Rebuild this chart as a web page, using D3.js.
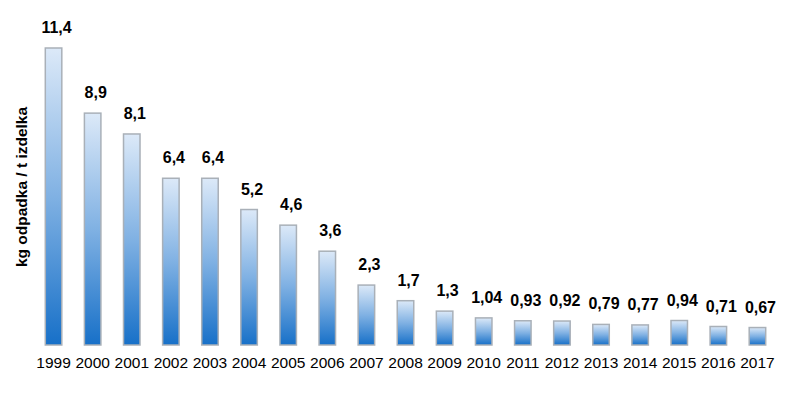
<!DOCTYPE html>
<html>
<head>
<meta charset="utf-8">
<script src="https://cdn.jsdelivr.net/npm/d3@7"></script>
<style>
  body { margin: 0; background: #fff; }
  svg { font-family: "Liberation Sans", Arial, sans-serif; }
</style>
</head>
<body>
<svg id="chart" width="793" height="394"></svg>
<script>
// data
var years = ["1999","2000","2001","2002","2003","2004","2005","2006","2007","2008",
             "2009","2010","2011","2012","2013","2014","2015","2016","2017"];
var values = [11.4, 8.9, 8.1, 6.4, 6.4, 5.2, 4.6, 3.6, 2.3, 1.7,
              1.3, 1.04, 0.93, 0.92, 0.79, 0.77, 0.94, 0.71, 0.67];
var labels = ["11,4","8,9","8,1","6,4","6,4","5,2","4,6","3,6","2,3","1,7",
              "1,3","1,04","0,93","0,92","0,79","0,77","0,94","0,71","0,67"];
var yTitle = "kg odpadka / t izdelka";

var svg = d3.select("#chart");

var plotLeft = 34, plotRight = 777, plotTop = 48, plotBottom = 345;

var x = d3.scaleBand()
  .domain(years)
  .range([plotLeft, plotRight])
  .paddingInner(0.578)
  .paddingOuter(0.289);

var y = d3.scaleLinear()
  .domain([0, 11.4])
  .range([plotBottom, plotTop]);

var defs = svg.append("defs");
var grad = defs.append("linearGradient")
  .attr("id", "barGrad")
  .attr("x1", 0).attr("y1", 0)
  .attr("x2", 0).attr("y2", 1);
grad.append("stop").attr("offset", "0%").attr("stop-color", "#dce9f8");
grad.append("stop").attr("offset", "50%").attr("stop-color", "#80b1e3");
grad.append("stop").attr("offset", "100%").attr("stop-color", "#1770c8");

var data = years.map(function(d, i) {
  return { year: d, value: values[i], label: labels[i] };
});

// bars
svg.append("g").selectAll("rect")
  .data(data)
  .enter()
  .append("rect")
  .attr("x", d => x(d.year))
  .attr("y", d => y(d.value))
  .attr("width", x.bandwidth())
  .attr("height", d => y(0) - y(d.value))
  .attr("fill", "url(#barGrad)")
  .attr("stroke", "#a9b0b8")
  .attr("stroke-width", 1.5);

// value labels
svg.append("g").selectAll("text")
  .data(data)
  .enter()
  .append("text")
  .attr("x", d => x(d.year) + x.bandwidth() / 2 + 3)
  .attr("y", d => y(d.value) - 15)
  .attr("text-anchor", "middle")
  .attr("font-size", "16px")
  .attr("font-weight", "bold")
  .attr("fill", "#000")
  .text(d => d.label);

// x axis (year labels only)
var xAxis = svg.append("g")
  .attr("transform", "translate(0," + plotBottom + ")")
  .call(d3.axisBottom(x).tickSize(0).tickPadding(12));
xAxis.select(".domain").remove();
xAxis.selectAll("text")
  .attr("font-size", "15.5px")
  .attr("font-family", "'Liberation Sans', Arial, sans-serif")
  .attr("fill", "#000");

// y title
svg.append("text")
  .attr("transform", "translate(27,187) rotate(-90)")
  .attr("text-anchor", "middle")
  .attr("font-size", "15.5px")
  .attr("font-weight", "bold")
  .attr("fill", "#000")
  .text(yTitle);
</script>
</body>
</html>
